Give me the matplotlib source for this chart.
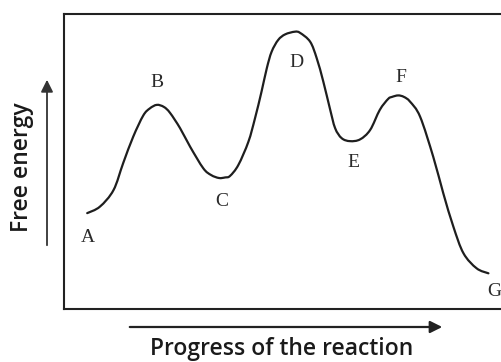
import matplotlib
matplotlib.use("Agg")
import numpy as np
import matplotlib.pyplot as plt
from matplotlib.patches import FancyArrowPatch, PathPatch
from matplotlib.path import Path

# Free energy profile (progress 0-100, energy 0-100)
progress = [5.3, 8.2, 11.3, 13.5, 15.8, 18.1, 19.6, 21.2, 22.8, 24.2, 26.5,
            28.8, 31.8, 33.6, 35.4, 36.8, 37.9, 39.8, 42.1, 43.6, 45.1, 46.3,
            47.4, 48.9, 50.5, 52.7, 53.9, 56.2, 57.7, 59.2, 60.7, 61.9, 63.4,
            65.3, 67.6, 69.9, 72.1, 74.0, 74.9, 76.3, 77.6, 79.0, 81.3, 84.3,
            86.6, 88.9, 91.2, 94.2, 96.9]
energy = [32.5, 34.7, 40.3, 49.4, 58.4, 65.6, 68.0, 69.2, 68.5, 66.5, 61.3,
          55.0, 47.7, 45.4, 44.4, 44.6, 45.1, 48.8, 56.7, 64.6, 73.7, 81.6,
          87.2, 91.2, 93.1, 94.0, 93.6, 90.6, 85.0, 77.1, 68.0, 61.3, 57.9,
          56.9, 57.5, 60.7, 67.5, 71.2, 71.9, 72.4, 71.9, 70.3, 65.2, 51.6,
          39.2, 27.9, 18.9, 13.8, 12.1]

# point labels and where they sit
point_names = ["A", "B", "C", "D", "E", "F", "G"]
label_x = [5.5, 21.2, 36.1, 53.0, 66.0, 76.9, 98.2]
label_y = [24.4, 76.9, 36.3, 83.7, 49.5, 78.6, 5.8]

W, H = 502, 362
fig = plt.figure(figsize=(W / 100, H / 100), dpi=100)
fig.patch.set_facecolor("white")

# plot box: left 64px, top 14px, bottom 309px, runs off the right edge
ax = fig.add_axes([64 / W, (H - 309) / H, (W - 64) / W, (309 - 14) / H])
ax.set_xlim(0, 100)
ax.set_ylim(0, 100)
ax.set_xticks([])
ax.set_yticks([])
ax.spines["right"].set_visible(False)
for s in ["top", "left", "bottom"]:
    ax.spines[s].set_linewidth(1.5)
    ax.spines[s].set_color("#222222")

# smooth bezier path through the read points (catmull-rom style handles)
pts = np.column_stack([progress, energy])
verts = [pts[0]]
codes = [Path.MOVETO]
for i in range(len(pts) - 1):
    p0 = pts[i - 1] if i > 0 else pts[i]
    p1, p2 = pts[i], pts[i + 1]
    p3 = pts[i + 2] if i + 2 < len(pts) else pts[i + 1]
    verts += [p1 + (p2 - p0) / 6, p2 - (p3 - p1) / 6, p2]
    codes += [Path.CURVE4] * 3
ax.add_patch(PathPatch(Path(verts, codes), facecolor="none",
                       edgecolor="#1e1e1e", lw=1.6, capstyle="round",
                       joinstyle="round"))

for name, lx, ly in zip(point_names, label_x, label_y):
    ax.text(lx, ly, name, ha="center", va="center", fontsize=14,
            family="Liberation Serif", color="#2a2a2a", clip_on=False)

# axis direction arrows (in figure pixels)
def px(x, y):
    return (x / W, 1 - y / H)

y_arrow = FancyArrowPatch(px(47, 248), px(47, 77), transform=fig.transFigure,
                          arrowstyle="-|>,head_length=6,head_width=3",
                          lw=1.3, color="#333333", mutation_scale=1.2)
x_arrow = FancyArrowPatch(px(127, 327), px(445, 327), transform=fig.transFigure,
                          arrowstyle="-|>,head_length=6,head_width=3",
                          lw=1.6, color="#222222", mutation_scale=1.2)
fig.add_artist(y_arrow)
fig.add_artist(x_arrow)

fig.text(22 / W, 1 - 167 / H, "Free energy", rotation=90, ha="center",
         va="center", fontsize=16.5, family="Open Sans", weight="semibold",
         color="#1a1a1a")
fig.text(282 / W, 1 - 355 / H, "Progress of the reaction", ha="center",
         va="baseline", fontsize=16.5, family="Open Sans", weight="semibold",
         color="#1a1a1a")

fig.savefig("out.png", dpi=100, facecolor="white")
